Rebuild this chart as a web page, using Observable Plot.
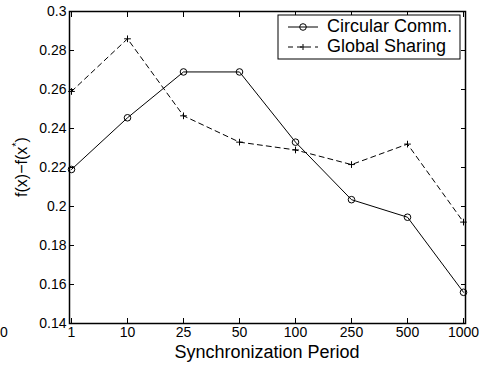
<!DOCTYPE html>
<html>
<head>
<meta charset="utf-8">
<script src="https://cdn.jsdelivr.net/npm/d3@7"></script>
<script src="https://cdn.jsdelivr.net/npm/@observablehq/plot@0.6"></script>
<style>
  html, body { margin: 0; padding: 0; background: white; }
</style>
</head>
<body>
<div id="chart"></div>
<script>
const periods = ["1", "10", "25", "50", "100", "250", "500", "1000"];
const circular = [0.219, 0.2455, 0.269, 0.269, 0.233, 0.2035, 0.1945, 0.156];
const globalSharing = [0.259, 0.286, 0.2465, 0.233, 0.229, 0.2215, 0.232, 0.192];
const yTicks = [0.14, 0.16, 0.18, 0.2, 0.22, 0.24, 0.26, 0.28, 0.3];
const seriesNames = ["Circular Comm.", "Global Sharing"];
const xLabel = "Synchronization Period";

const font = "'Liberation Sans', Arial, Helvetica, sans-serif";
const fmt = d => String(+d.toFixed(2));

const rows = (vals) => vals.map((v, i) => ({x: periods[i], y: v}));

const chart = Plot.plot({
  width: 482,
  height: 366,
  marginLeft: 69,
  marginRight: 17,
  marginTop: 11,
  marginBottom: 43,
  style: {fontFamily: font, fontSize: "14px", color: "black", background: "white", overflow: "visible"},
  x: {type: "point", domain: periods, padding: 0},
  y: {domain: [0.14, 0.3]},
  marks: [
    Plot.axisX({ticks: periods, tickSize: -5, tickPadding: 9, label: null, fontSize: 14}),
    Plot.axisX({anchor: "top", ticks: periods, tickSize: -5, tickFormat: () => "", label: null}),
    Plot.axisY({ticks: yTicks, tickSize: -5, tickPadding: 8, tickFormat: fmt, label: null, fontSize: 14}),
    Plot.axisY({anchor: "right", ticks: yTicks, tickSize: -5, tickFormat: () => "", label: null}),
    Plot.lineY(rows(globalSharing), {x: "x", y: "y", stroke: "black", strokeWidth: 1, strokeDasharray: "5,4"}),
    Plot.dot(rows(globalSharing), {x: "x", y: "y", symbol: "plus", r: 2.3, stroke: "black", strokeWidth: 1}),
    Plot.lineY(rows(circular), {x: "x", y: "y", stroke: "black", strokeWidth: 1}),
    Plot.dot(rows(circular), {x: "x", y: "y", symbol: "circle", r: 3.3, stroke: "black", fill: "none", strokeWidth: 1}),
    Plot.frame({stroke: "black", strokeWidth: 1.5})
  ]
});

document.getElementById("chart").appendChild(chart);

const svg = d3.select(chart);

// Axis labels
svg.append("text")
  .attr("x", 267).attr("y", 353)
  .attr("text-anchor", "middle").attr("dominant-baseline", "middle")
  .style("font-family", font).style("font-size", "18px").attr("fill", "black")
  .text(xLabel);

const yl = svg.append("text")
  .attr("transform", "translate(23,167) rotate(-90)")
  .attr("text-anchor", "middle").attr("dominant-baseline", "middle")
  .style("font-family", font).style("font-size", "16px").attr("fill", "black");
yl.append("tspan").text("f(x)\u2212f(x");
yl.append("tspan").attr("baseline-shift", "super").style("font-size", "11px").text("*");
yl.append("tspan").text(")");

// stray label at left edge
svg.append("text")
  .attr("x", 0).attr("y", 333)
  .attr("text-anchor", "start").attr("dominant-baseline", "middle")
  .style("font-family", font).style("font-size", "14px").attr("fill", "black")
  .text("0");

// Legend
const lg = svg.append("g");
lg.append("rect").attr("x", 278).attr("y", 15).attr("width", 182).attr("height", 44)
  .attr("fill", "white").attr("stroke", "black").attr("stroke-width", 1);
const ly = [27, 47];
lg.append("line").attr("x1", 288).attr("x2", 318).attr("y1", ly[0]).attr("y2", ly[0]).attr("stroke", "black");
lg.append("circle").attr("cx", 303).attr("cy", ly[0]).attr("r", 3.3).attr("fill", "none").attr("stroke", "black");
lg.append("line").attr("x1", 288).attr("x2", 318).attr("y1", ly[1]).attr("y2", ly[1]).attr("stroke", "black").attr("stroke-dasharray", "5,4");
lg.append("path").attr("d", `M300,${ly[1]}h6M303,${ly[1]-3}v6`).attr("stroke", "black");
seriesNames.forEach((n, i) => {
  lg.append("text").attr("x", 327).attr("y", ly[i])
    .attr("text-anchor", "start").attr("dominant-baseline", "middle")
    .style("font-family", font).style("font-size", "18px").attr("fill", "black")
    .text(n);
});
</script>
</body>
</html>
